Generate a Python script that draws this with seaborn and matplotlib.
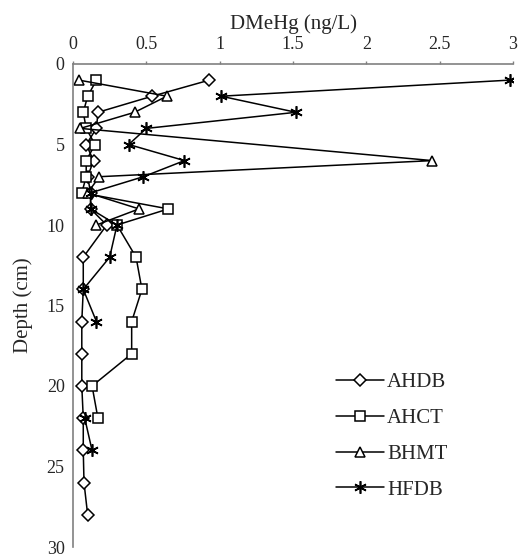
import numpy as np
import pandas as pd
import matplotlib
matplotlib.use("Agg")
import matplotlib.pyplot as plt
import seaborn as sns

# ---- data ----
ahdb_depth = [1, 2, 3, 4, 5, 6, 7, 8, 9, 10, 12, 14, 16, 18, 20, 22, 24, 26, 28]
ahdb_val = [0.93, 0.54, 0.17, 0.16, 0.09, 0.14, 0.10, 0.12, 0.12, 0.23, 0.07, 0.07, 0.06, 0.06, 0.06, 0.07, 0.07, 0.075, 0.10]

ahct_depth = [1, 2, 3, 4, 5, 6, 7, 8, 9, 10, 12, 14, 16, 18, 20, 22]
ahct_val = [0.16, 0.10, 0.07, 0.09, 0.15, 0.09, 0.09, 0.06, 0.65, 0.30, 0.43, 0.47, 0.40, 0.40, 0.13, 0.17]

bhmt_depth = [1, 2, 3, 4, 6, 7, 8, 9, 10]
bhmt_val = [0.04, 0.64, 0.42, 0.05, 2.45, 0.18, 0.10, 0.45, 0.16]

hfdb_depth = [1, 2, 3, 4, 5, 6, 7, 8, 9, 10, 12, 14, 16, 18, 20, 22, 24]
hfdb_val = [2.98, 1.01, 1.52, 0.50, 0.38, 0.76, 0.48, 0.12, 0.12, 0.30, 0.25, 0.07, 0.16, np.nan, np.nan, 0.08, 0.13]

series_names = ["AHDB", "AHCT", "BHMT", "HFDB"]
x_ticks = [0, 0.5, 1, 1.5, 2, 2.5, 3]
x_tick_labels = ["0", "0.5", "1", "1.5", "2", "2.5", "3"]
y_ticks = [0, 5, 10, 15, 20, 25, 30]

frames = []
for name, d, v in zip(series_names,
                      [ahdb_depth, ahct_depth, bhmt_depth, hfdb_depth],
                      [ahdb_val, ahct_val, bhmt_val, hfdb_val]):
    f = pd.DataFrame({"depth": d, "value": v})
    f["site"] = name
    f["segment"] = name + "_" + f["value"].isna().cumsum().astype(str)
    frames.append(f.dropna())
df = pd.concat(frames, ignore_index=True)

sns.set_theme(style="white")
plt.rcParams["font.family"] = ["Liberation Serif", "DejaVu Serif"]

fig = plt.figure(figsize=(5.18, 5.56), dpi=100)
ax = fig.add_axes([73 / 518, 1 - 547 / 556, 440 / 518, 483 / 556])

palette = {n: "black" for n in series_names}
filled = ["AHDB", "AHCT", "BHMT"]
markers_filled = {"AHDB": "D", "AHCT": "s", "BHMT": "^"}
sns.lineplot(data=df[df["site"].isin(filled)], x="value", y="depth",
             hue="site", style="site", units="segment", estimator=None,
             sort=False, hue_order=filled, style_order=filled,
             markers=markers_filled, dashes=False, palette=palette,
             linewidth=1.1, markersize=6.5, mfc="white", mec="black",
             mew=1.1, ax=ax)
sns.lineplot(data=df[df["site"] == "HFDB"], x="value", y="depth",
             hue="site", units="segment", estimator=None, sort=False,
             palette=palette, marker=(6, 2, 0), linewidth=1.1,
             markersize=9, mec="black", mew=1.2, ax=ax)

ax.set_xlim(0, 3)
ax.set_ylim(30, 0)
ax.xaxis.tick_top()
ax.xaxis.set_label_position("top")
ax.set_xticks(x_ticks)
ax.set_xticklabels(x_tick_labels)
ax.set_yticks(y_ticks)
ax.tick_params(axis="both", labelsize=13, length=2.5, width=1, color="#808080",
               direction="out", pad=3.5)
ax.tick_params(axis="x", pad=5.5)
ax.set_xlabel("DMeHg (ng/L)", fontsize=15, labelpad=5)
ax.set_ylabel("Depth (cm)", fontsize=15, labelpad=10)

for s in ["right", "bottom"]:
    ax.spines[s].set_visible(False)
for s in ["left", "top"]:
    ax.spines[s].set_color("#808080")
    ax.spines[s].set_linewidth(1.2)

handles, labels = ax.get_legend_handles_labels()
ax.legend(handles, labels, loc="upper left", bbox_to_anchor=(0.555, 0.40),
          frameon=False, fontsize=15, handlelength=2.3, labelspacing=0.78,
          handletextpad=0.15)

fig.savefig("out.png", dpi=100)
